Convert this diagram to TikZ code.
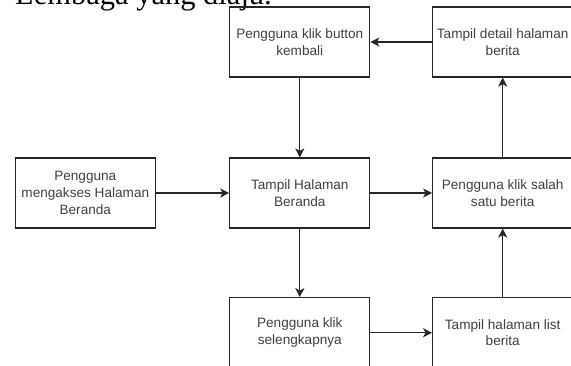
\documentclass[tikz,border=0pt]{standalone}
\usepackage{fontspec}
\setmainfont{Liberation Sans}
\newfontfamily\serifcap{Liberation Serif}
\usetikzlibrary{arrows.meta}
\begin{document}
\begin{tikzpicture}[x=1pt,y=-1pt,
  flowbox/.style={draw=black!85, line width=1.2pt, minimum width=140pt, minimum height=70pt,
    inner sep=2pt, align=center, font=\fontsize{13.6}{16.7}\selectfont, text=black!75},
  flowarrow/.style={draw=black!85, line width=1.2pt, -{Stealth[length=9pt,width=9pt,inset=2.5pt]}}]
\useasboundingbox (0,0) rectangle (571,365);
\clip (0,0) rectangle (571,365);
\node[anchor=base west, inner sep=0pt, font=\serifcap\fontsize{30.5}{30}\selectfont] (title) at (15,4.7) {Lembaga yang diaju.};
\node[flowbox] (a) at (85.3,193) {Pengguna\\mengakses Halaman\\Beranda};
\node[flowbox] (b) at (299.8,193) {Tampil Halaman\\Beranda};
\node[flowbox] (c) at (299.8,42) {Pengguna klik button\\kembali};
\node[flowbox] (d) at (502.7,42) {Tampil detail halaman\\berita};
\node[flowbox] (e) at (502.7,193) {Pengguna klik salah\\satu berita};
\node[flowbox] (f) at (299.8,332.7) {Pengguna klik\\selengkapnya};
\node[flowbox] (g) at (502.7,332.7) {Tampil halaman list\\berita};
\draw[flowarrow] (a) -- (b);
\draw[flowarrow] (b) -- (e);
\draw[flowarrow] (e) -- (d);
\draw[flowarrow] (d) -- (c);
\draw[flowarrow] (c) -- (b);
\draw[flowarrow] (b) -- (f);
\draw[flowarrow] (f) -- (g);
\draw[flowarrow] (g) -- (e);
\end{tikzpicture}
\end{document}
